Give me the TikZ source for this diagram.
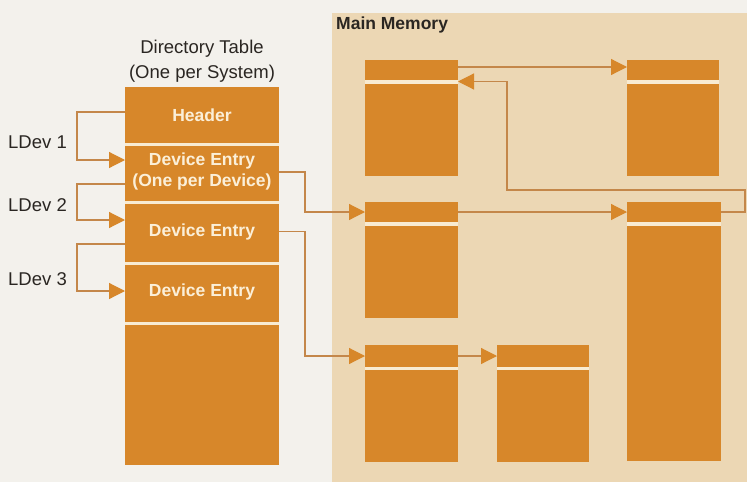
\documentclass[tikz,border=0pt]{standalone}
\usepackage{fontspec}
\setmainfont{Liberation Sans}
\usetikzlibrary{arrows.meta}
\definecolor{pagec}{HTML}{F3F1EC}
\definecolor{panelc}{HTML}{ECD7B4}
\definecolor{boxc}{HTML}{D7872A}
\definecolor{gapc}{HTML}{F8EBD2}
\definecolor{linec}{HTML}{C4874A}
\definecolor{inkc}{HTML}{2A2622}
\definecolor{boxtext}{HTML}{FBEFD8}
\tikzset{
  blk/.style={fill=boxc, draw=none, inner sep=0pt, outer sep=0pt, anchor=north west,
    text=boxtext, font=\fontsize{17.5}{21}\selectfont\bfseries, align=center},
  gaptop/.style={path picture={\fill[gapc] (path picture bounding box.north west) rectangle ([yshift=-#1]path picture bounding box.north east);}},
  conn/.style={draw=linec, line width=1.2pt, line join=miter,
    -{Triangle[length=16pt,width=16pt,color=boxc,fill=boxc]}},
  lab/.style={text=inkc, inner sep=0pt, font=\fontsize{18.5}{22}\selectfont},
  blab/.style={text=inkc, inner sep=0pt, font=\fontsize{17.5}{21}\selectfont\bfseries},
}
\begin{document}
\begin{tikzpicture}[x=1pt,y=-1pt]
\useasboundingbox (0,0) rectangle (747,482);
\fill[pagec] (0,0) rectangle (747,482);
\fill[panelc] (332,13) rectangle (747,482);

% titles
\node[lab, anchor=base] (t1) at (202,53) {Directory Table};
\node[lab, anchor=base] (t2) at (202,78) {(One per System)};
\node[blab, anchor=base west] (mm) at (336,29) {Main Memory};

% directory table
\node[blk, minimum width=154pt, minimum height=56pt] (hdr) at (125,87) {Header};
\node[blk, gaptop=3pt, minimum width=154pt, minimum height=58pt] (de1) at (125,143) {\rule{0pt}{3pt}\\[-12pt]Device Entry\\(One per Device)};
\node[blk, gaptop=3pt, minimum width=154pt, minimum height=61pt] (de2) at (125,201) {Device Entry};
\node[blk, gaptop=3pt, minimum width=154pt, minimum height=60pt] (de3) at (125,262) {Device Entry};
\node[blk, gaptop=2.5pt, minimum width=154pt, minimum height=143pt] (dbot) at (125,322) {};

% LDev labels
\node[lab, anchor=base west] (l1) at (8,148) {LDev 1};
\node[lab, anchor=base west] (l2) at (8,211) {LDev 2};
\node[lab, anchor=base west] (l3) at (8,285) {LDev 3};

% main memory boxes
\node[blk, minimum width=93pt, minimum height=20pt] (hA) at (365,60) {};
\node[blk, gaptop=4pt, minimum width=93pt, minimum height=96pt] (bA) at (365,80) {};
\node[blk, minimum width=92pt, minimum height=20pt] (hB) at (627,60) {};
\node[blk, gaptop=4pt, minimum width=92pt, minimum height=96pt] (bB) at (627,80) {};
\node[blk, minimum width=93pt, minimum height=20pt] (hC) at (365,202) {};
\node[blk, gaptop=4pt, minimum width=93pt, minimum height=96pt] (bC) at (365,222) {};
\node[blk, minimum width=94pt, minimum height=20pt] (hD) at (627,202) {};
\node[blk, gaptop=4pt, minimum width=94pt, minimum height=239pt] (bD) at (627,222) {};
\node[blk, minimum width=93pt, minimum height=22pt] (hE) at (365,345) {};
\node[blk, gaptop=3pt, minimum width=93pt, minimum height=95pt] (bE) at (365,367) {};
\node[blk, minimum width=92pt, minimum height=22pt] (hF) at (497,345) {};
\node[blk, gaptop=3pt, minimum width=92pt, minimum height=95pt] (bF) at (497,367) {};

\coordinate (r1) at (507,190);

% LDev connectors
\draw[conn] ([yshift=3pt]hdr.west) -- ++(-48,0) |- ([yshift=-17pt]de1.north west);
\draw[conn] ([yshift=-12pt]de1.west) -- ++(-48,0) |- ([yshift=-19pt]de2.north west);
\draw[conn] ([yshift=-12.5pt]de2.west) -- ++(-48,0) |- ([yshift=-29pt]de3.north west);

% table to memory
\draw[conn] (de1.east) -- ++(26,0) |- (hC.west);
\draw[conn] (de2.east) -- ++(26,0) |- (hE.west);

% memory links
\draw[conn] ([yshift=3pt]hA.east) -- ([yshift=3pt]hB.west);
\draw[conn] (hC.east) -- (hD.west);
\draw[conn] (hE.east) -- (hF.west);
\draw[conn] (hD.east) -- ++(24,0) |- (r1) |- ([yshift=-1.5pt]hA.south east);
\end{tikzpicture}
\end{document}
